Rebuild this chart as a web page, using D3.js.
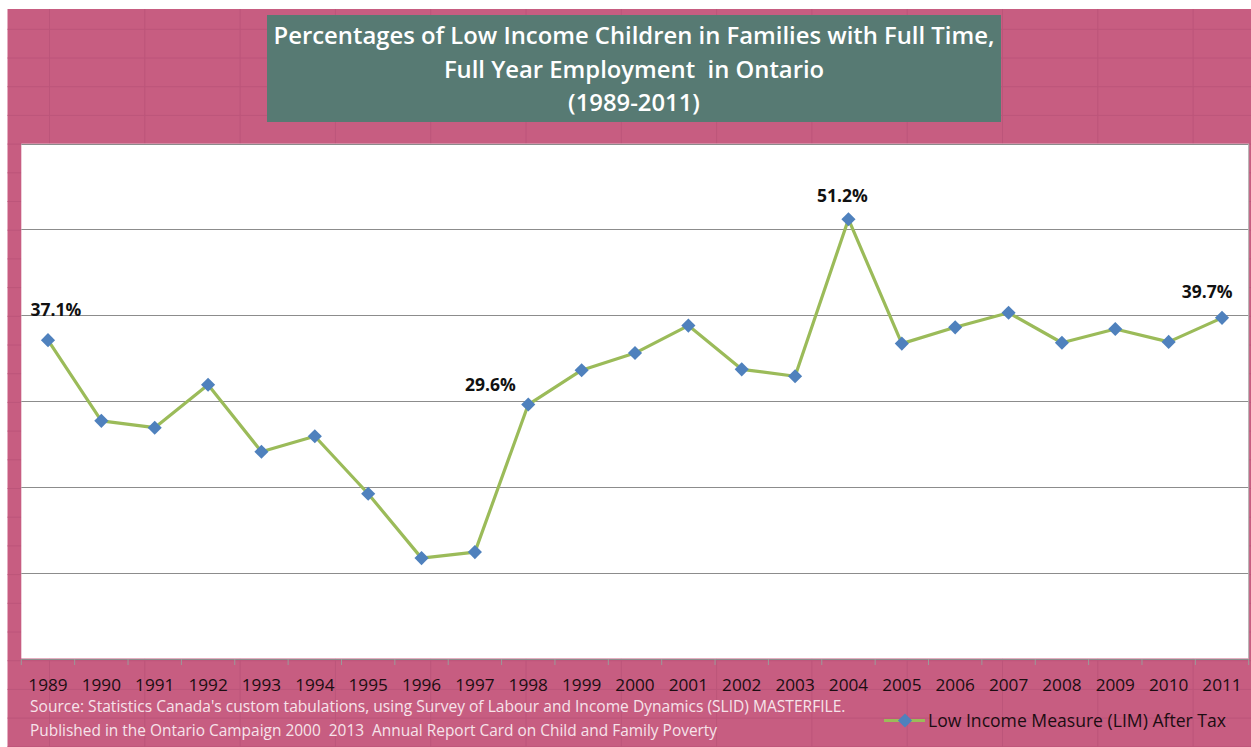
<!DOCTYPE html>
<html>
<head>
<meta charset="utf-8">
<script src="https://cdn.jsdelivr.net/npm/d3@7"></script>
<style>
  html, body { margin: 0; padding: 0; background: #ffffff; overflow: hidden; }
  svg { display: block; }
  text { white-space: pre; }
</style>
</head>
<body>
<svg id="chart" width="1251" height="747"></svg>
<script>
// ---------- data ----------
const years = ["1989","1990","1991","1992","1993","1994","1995","1996","1997","1998","1999","2000",
               "2001","2002","2003","2004","2005","2006","2007","2008","2009","2010","2011"];
const limAfterTax = [37.1, 27.7, 26.9, 31.9, 24.1, 25.9, 19.2, 11.7, 12.4, 29.6, 33.6, 35.6,
                     38.8, 33.7, 32.9, 51.2, 36.7, 38.6, 40.3, 36.8, 38.4, 36.9, 39.7];
const labelledYears = ["1989", "1998", "2004", "2011"];
const yTicks = [0, 10, 20, 30, 40, 50, 60];
const titleLines = ["Percentages of Low Income Children in Families with Full Time,",
                    "Full Year Employment  in Ontario",
                    "(1989-2011)"];
const sourceLines = ["Source: Statistics Canada's custom tabulations, using Survey of Labour and Income Dynamics (SLID) MASTERFILE.",
                     "Published in the Ontario Campaign 2000  2013  Annual Report Card on Child and Family Poverty"];
const seriesName = "Low Income Measure (LIM) After Tax";

// ---------- layout / style ----------
const W = 1251, H = 747;
const plot = { left: 21.3, right: 1248.7, top: 143.7, bottom: 658.5 };
const labelOffsets = { "1989": [8, -30], "1998": [-38, -20], "2004": [-6, -23], "2011": [-15, -26] };
const pink = "#c75d81", pinkGrid = "#bc557a";

const svg = d3.select("#chart");

function fit(sel, target) {
  sel.each(function () {
    const fs = parseFloat(this.getAttribute("font-size"));
    const w = this.getComputedTextLength();
    if (w > 0) this.setAttribute("font-size", (fs * target / w).toFixed(2));
  });
}

// background (spreadsheet look)
svg.append("rect").attr("x", 0).attr("y", 0).attr("width", W).attr("height", H).attr("fill", "#ffffff");
svg.append("rect").attr("x", 7.5).attr("y", 9).attr("width", W - 7.5).attr("height", H - 9).attr("fill", pink);
const gridG = svg.append("g").attr("stroke", pinkGrid).attr("stroke-width", 1);
for (let x = 49.5; x < W; x += 95.3) {
  gridG.append("line").attr("x1", x).attr("x2", x).attr("y1", 9).attr("y2", H);
}
for (let y = 29.3; y < H; y += 28.7) {
  gridG.append("line").attr("x1", 7.5).attr("x2", W).attr("y1", y).attr("y2", y);
}

// title box
svg.append("rect").attr("x", 267).attr("y", 15).attr("width", 734).attr("height", 107)
  .attr("fill", "#577a73");
const titleY = [44, 78, 111];
const tt = svg.append("g").selectAll("text").data(titleLines).join("text")
  .attr("x", 634).attr("y", (d, i) => titleY[i])
  .attr("text-anchor", "middle")
  .attr("font-family", "'Open Sans', sans-serif")
  .attr("font-weight", 600)
  .attr("font-size", 22)
  .attr("fill", "#ffffff")
  .text(d => d);
fit(tt.filter((d, i) => i === 0), 721);
const titleFs = tt.filter((d, i) => i === 0).attr("font-size");
tt.attr("font-size", titleFs);

// plot area
svg.append("rect").attr("x", plot.left).attr("y", plot.top).attr("width", plot.right - plot.left)
  .attr("height", plot.bottom - plot.top).attr("fill", "#ffffff");

const x = d3.scaleBand().domain(years).range([plot.left, plot.right]).padding(0);
const cx = d => x(d) + x.bandwidth() / 2;
const y = d3.scaleLinear().domain([0, 60]).range([plot.bottom, plot.top]);

// horizontal gridlines
svg.append("g").selectAll("line").data(yTicks.filter(t => t > 0)).join("line")
  .attr("x1", plot.left).attr("x2", plot.right)
  .attr("y1", d => Math.round(y(d)) + 0.5).attr("y2", d => Math.round(y(d)) + 0.5)
  .attr("stroke", "#8c8c8c").attr("stroke-width", 1);

// right border of plot
svg.append("line").attr("x1", plot.right).attr("x2", plot.right).attr("y1", plot.top).attr("y2", plot.bottom)
  .attr("stroke", "#b0b0b0").attr("stroke-width", 1);

// x axis
const xAxis = d3.axisBottom(x).tickSize(0).tickPadding(0);
const ax = svg.append("g").attr("transform", `translate(0,${Math.round(plot.bottom)})`).call(xAxis);
ax.select(".domain").attr("stroke", "#8c8c8c").attr("stroke-width", 1.2);
ax.selectAll(".tick text")
  .attr("y", 32)
  .attr("dy", 0)
  .attr("font-family", "'Open Sans', sans-serif")
  .attr("font-size", 17.2)
  .attr("fill", "#1c0d12");
// boundary ticks
const bounds = years.map(d => x(d)).concat([plot.right]);
ax.append("g").selectAll("line").data(bounds).join("line")
  .attr("x1", d => d).attr("x2", d => d).attr("y1", 0).attr("y2", 6)
  .attr("stroke", "#9a9a9a").attr("stroke-width", 1);

// series line
const pts = years.map((yr, i) => ({ yr, v: limAfterTax[i] }));
svg.append("path").datum(pts)
  .attr("fill", "none").attr("stroke", "#9bbb59").attr("stroke-width", 3.2)
  .attr("stroke-linejoin", "round")
  .attr("d", d3.line().x(d => cx(d.yr)).y(d => y(d.v)));

// diamonds
const diamond = d3.symbol().type(d3.symbolSquare).size(100);
svg.append("g").selectAll("path").data(pts).join("path")
  .attr("d", diamond)
  .attr("transform", d => `translate(${cx(d.yr)},${y(d.v)}) rotate(45)`)
  .attr("fill", "#4f81bd");

// data labels
svg.append("g").selectAll("text").data(pts.filter(d => labelledYears.includes(d.yr))).join("text")
  .attr("x", d => cx(d.yr) + labelOffsets[d.yr][0])
  .attr("y", d => y(d.v) + labelOffsets[d.yr][1])
  .attr("dy", "0.35em")
  .attr("text-anchor", "middle")
  .attr("font-family", "'Open Sans', sans-serif")
  .attr("font-weight", 700)
  .attr("font-size", 17.5)
  .attr("fill", "#111111")
  .text(d => d3.format(".1f")(d.v) + "%");

// source lines
const srcY = [712, 736];
const srcW = [816, 687];
sourceLines.forEach((s, i) => {
  const t = svg.append("text").attr("x", 30).attr("y", srcY[i])
    .attr("font-family", "'Open Sans', sans-serif")
    .attr("font-size", 14)
    .attr("fill", "#f6e3ea")
    .text(s);
  fit(t, srcW[i]);
});

// legend
const lg = svg.append("g");
lg.append("line").attr("x1", 884).attr("x2", 925).attr("y1", 720.5).attr("y2", 720.5)
  .attr("stroke", "#9bbb59").attr("stroke-width", 3.2);
lg.append("path").attr("d", diamond).attr("transform", "translate(905,720.5) rotate(45)").attr("fill", "#4f81bd");
const lt = lg.append("text").attr("x", 928).attr("y", 726.5)
  .attr("font-family", "'Open Sans', sans-serif")
  .attr("font-size", 17)
  .attr("fill", "#1c0d12")
  .text(seriesName);
fit(lt, 298);
</script>
</body>
</html>
